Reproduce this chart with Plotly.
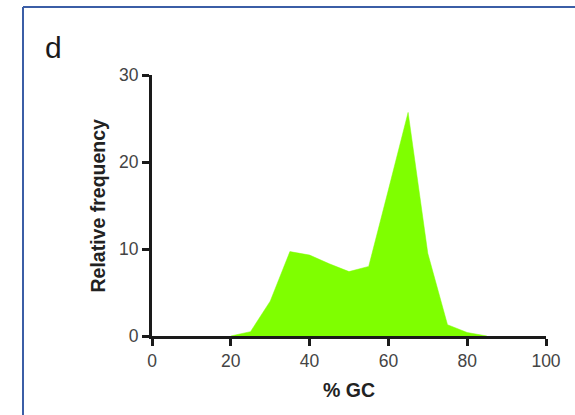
import plotly.graph_objects as go

# Data
gc_percent = [20, 25, 30, 35, 40, 45, 50, 55, 60, 65, 70, 75, 80, 85]
rel_freq = [0, 0.5, 4.0, 9.7, 9.3, 8.3, 7.4, 8.0, 16.8, 25.7, 9.5, 1.3, 0.4, 0]
x_ticks = [0, 20, 40, 60, 80, 100]
y_ticks = [0, 10, 20, 30]

W, H = 575, 415
L, R, T, B = 152, 29, 75, 79
pw, ph = W - L - R, H - T - B

def px_x(p):
    return (p - L) / pw

def px_y(p):
    return (H - B - p) / ph

fig = go.Figure()
fig.add_trace(go.Scatter(
    x=gc_percent, y=rel_freq, mode="lines", fill="tozeroy",
    fillcolor="#7FFF00", line=dict(color="#7FFF00", width=0.5),
    hoverinfo="skip", showlegend=False,
))

axis_common = dict(
    showgrid=False, zeroline=False, showline=True, linecolor="#1a1a1a",
    linewidth=3, ticks="outside", ticklen=7, tickwidth=2.5, tickcolor="#1a1a1a",
    tickfont=dict(family="Liberation Sans, Arial", size=17.5, color="#444"),
)

fig.update_layout(
    width=W, height=H,
    margin=dict(l=L, r=R, t=T, b=B),
    paper_bgcolor="white", plot_bgcolor="white",
    xaxis=dict(range=[0, 100], tickvals=x_ticks, **axis_common),
    yaxis=dict(range=[0, 30], tickvals=y_ticks, **axis_common),
    font=dict(family="Liberation Sans, Arial"),
    shapes=[
        dict(type="line", xref="paper", yref="paper",
             x0=px_x(23), x1=px_x(23), y0=px_y(7), y1=px_y(430),
             line=dict(color="#3b5ea6", width=2)),
        dict(type="line", xref="paper", yref="paper",
             x0=px_x(23), x1=px_x(590), y0=px_y(7), y1=px_y(7),
             line=dict(color="#3b5ea6", width=2)),
    ],
    annotations=[
        dict(text="d", xref="paper", yref="paper", x=px_x(53), y=px_y(47),
             xanchor="center", yanchor="middle", showarrow=False,
             font=dict(size=30, color="#1a1a1a")),
        dict(text="<b>Relative frequency</b>", xref="paper", yref="paper",
             x=px_x(97), y=0.5, textangle=-90, xanchor="center", yanchor="middle",
             showarrow=False, font=dict(size=19.5, color="#222")),
        dict(text="<b>% GC</b>", xref="paper", yref="paper",
             x=0.5, y=px_y(390), xanchor="center", yanchor="middle",
             showarrow=False, font=dict(size=19.5, color="#222")),
    ],
)

fig.write_html("out.html")
